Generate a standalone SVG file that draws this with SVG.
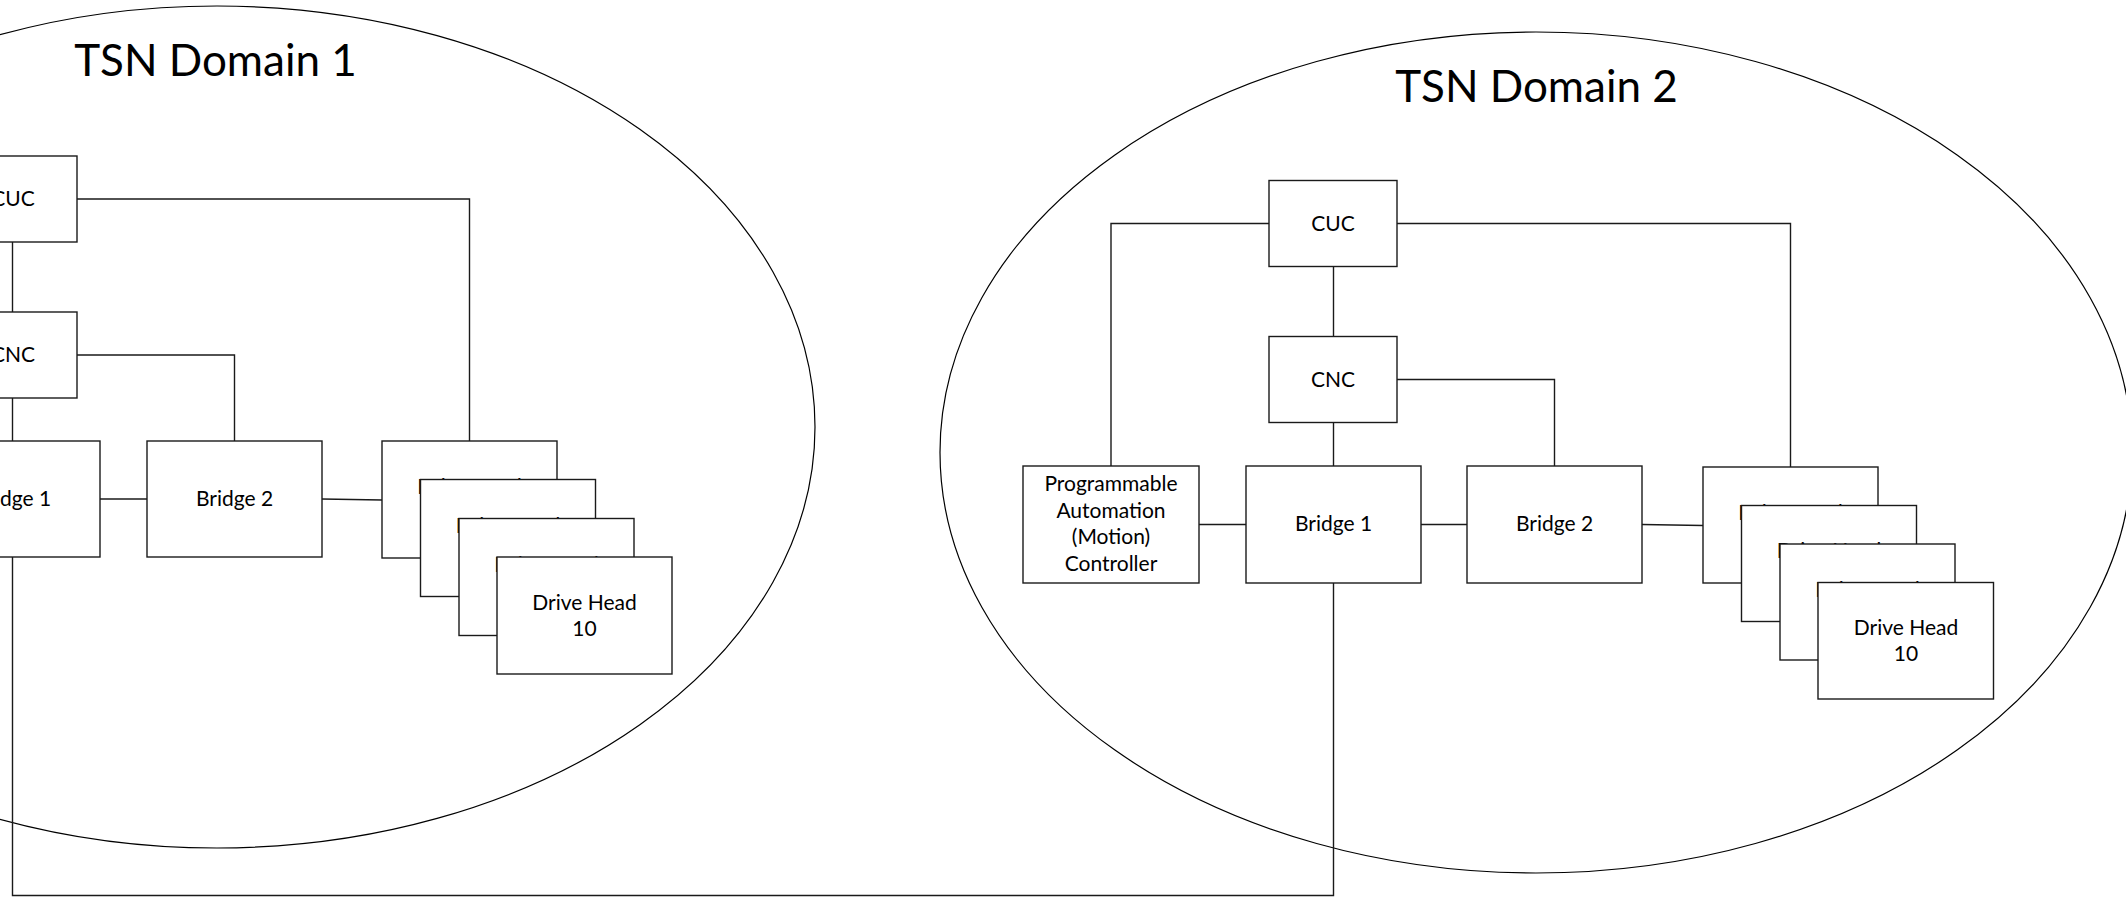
<svg xmlns="http://www.w3.org/2000/svg" width="2126" height="897" viewBox="0 0 2126 897">
<style>
  .bg { fill: #ffffff; }
  .domain { fill: none; stroke: #000; stroke-width: 1.2; }
  .box { fill: #ffffff; stroke: #1a1a1a; stroke-width: 1.4; }
  .wire { fill: none; stroke: #1a1a1a; stroke-width: 1.4; }
  .title { font-family: Lato, "Open Sans", sans-serif; font-size: 44px; fill: #000; text-anchor: middle; }
  .lbl { font-family: Lato, "Open Sans", sans-serif; font-size: 21px; fill: #000; text-anchor: middle; }
</style>
<rect class="bg" x="0" y="0" width="2126" height="897"/>

<g id="domain1">
  <ellipse class="domain" cx="217" cy="427" rx="598" ry="421"/>
  <text class="title" x="215.5" y="76">TSN Domain 1</text>
</g>
<g id="domain2">
  <ellipse class="domain" cx="1536" cy="452.5" rx="596" ry="420.5"/>
  <text class="title" x="1536.5" y="102">TSN Domain 2</text>
</g>

<g id="connectors">
  <path class="wire" d="M12.5 242 V312"/>
  <path class="wire" d="M12.5 398 V441"/>
  <path class="wire" d="M77 199 H469.5 V441"/>
  <path class="wire" d="M77 355 H234.5 V441"/>
  <path class="wire" d="M100 499 H147"/>
  <path class="wire" d="M322 499 L382 500"/>
  <path class="wire" d="M12.5 557 V895.5 H1333.5 V583"/>
  <path class="wire" d="M1333.5 266.5 V336.5"/>
  <path class="wire" d="M1333.5 422.5 V466"/>
  <path class="wire" d="M1269 223.5 H1111 V466"/>
  <path class="wire" d="M1397 223.5 H1790.5 V467"/>
  <path class="wire" d="M1397 379.5 H1554.5 V466"/>
  <path class="wire" d="M1199 524.5 H1246"/>
  <path class="wire" d="M1421 524.5 H1467"/>
  <path class="wire" d="M1642 524.5 L1703 525.5"/>
</g>

<g id="d1-cuc">
  <rect class="box" x="-51" y="156" width="128" height="86"/>
  <text class="lbl" x="13" y="206">CUC</text>
</g>
<g id="d1-cnc">
  <rect class="box" x="-51" y="312" width="128" height="86"/>
  <text class="lbl" x="13" y="362">CNC</text>
</g>
<g id="d1-bridge1">
  <rect class="box" x="-75" y="441" width="175" height="116"/>
  <text class="lbl" x="12.5" y="506">Bridge 1</text>
</g>
<g id="d1-bridge2">
  <rect class="box" x="147" y="441" width="175" height="116"/>
  <text class="lbl" x="234.5" y="506">Bridge 2</text>
</g>
<g id="d1-drivehead-a">
  <rect class="box" x="382" y="441" width="175" height="117"/>
  <text class="lbl" x="469.5" y="494">Drive Head</text>
</g>
<g id="d1-drivehead-b">
  <rect class="box" x="420.5" y="479.5" width="175" height="117"/>
  <text class="lbl" x="508" y="532.5">Drive Head</text>
</g>
<g id="d1-drivehead-c">
  <rect class="box" x="459" y="518.5" width="175" height="117"/>
  <text class="lbl" x="546.5" y="571.5">Drive Head</text>
</g>
<g id="d1-drivehead-10">
  <rect class="box" x="497" y="557" width="175" height="117"/>
  <text class="lbl" x="584.5" y="610">Drive Head</text>
  <text class="lbl" x="584.5" y="636">10</text>
</g>

<g id="d2-cuc">
  <rect class="box" x="1269" y="180.5" width="128" height="86"/>
  <text class="lbl" x="1333" y="230.5">CUC</text>
</g>
<g id="d2-cnc">
  <rect class="box" x="1269" y="336.5" width="128" height="86"/>
  <text class="lbl" x="1333" y="386.5">CNC</text>
</g>
<g id="d2-pac">
  <rect class="box" x="1023" y="466" width="176" height="117"/>
  <text class="lbl" x="1111" y="491">Programmable</text>
  <text class="lbl" x="1111" y="517.5">Automation</text>
  <text class="lbl" x="1111" y="544">(Motion)</text>
  <text class="lbl" x="1111" y="571">Controller</text>
</g>
<g id="d2-bridge1">
  <rect class="box" x="1246" y="466" width="175" height="117"/>
  <text class="lbl" x="1333.5" y="531">Bridge 1</text>
</g>
<g id="d2-bridge2">
  <rect class="box" x="1467" y="466" width="175" height="117"/>
  <text class="lbl" x="1554.5" y="531">Bridge 2</text>
</g>
<g id="d2-drivehead-a">
  <rect class="box" x="1703" y="467" width="175" height="116"/>
  <text class="lbl" x="1790.5" y="519.5">Drive Head</text>
</g>
<g id="d2-drivehead-b">
  <rect class="box" x="1741.5" y="505.5" width="175" height="116"/>
  <text class="lbl" x="1829" y="558">Drive Head</text>
</g>
<g id="d2-drivehead-c">
  <rect class="box" x="1780" y="544" width="175" height="116"/>
  <text class="lbl" x="1867.5" y="596.5">Drive Head</text>
</g>
<g id="d2-drivehead-10">
  <rect class="box" x="1818" y="582.5" width="175.5" height="116.5"/>
  <text class="lbl" x="1906" y="635">Drive Head</text>
  <text class="lbl" x="1906" y="661">10</text>
</g>
</svg>
